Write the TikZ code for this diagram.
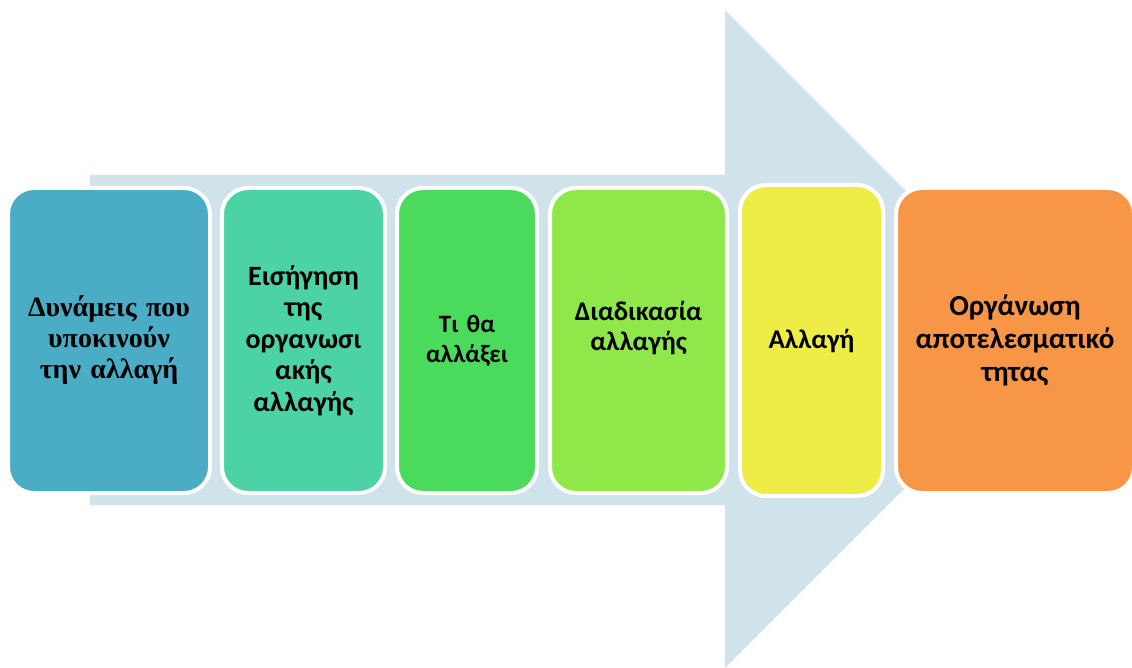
\documentclass[tikz,border=0pt]{standalone}
\usepackage{fontspec}
\setmainfont{Carlito}
\newfontfamily\timesgr{Liberation Serif}
\usepackage{tikz}
\usetikzlibrary{positioning,calc}

\definecolor{arrowbg}{HTML}{D0E2EA}
\definecolor{stepA}{HTML}{4BACC6}
\definecolor{stepB}{HTML}{4BD2A5}
\definecolor{stepC}{HTML}{4ADB5C}
\definecolor{stepD}{HTML}{8FE84A}
\definecolor{stepE}{HTML}{EDED46}
\definecolor{stepF}{HTML}{F79646}

\tikzset{
  stagebox/.style={draw=white, line width=4pt, rounded corners=26pt,
    minimum height=305pt, align=center, inner sep=4pt,
    font=\fontsize{27}{31}\selectfont\bfseries},
}

\begin{document}
\begin{tikzpicture}[x=1pt, y=-1pt]
    \useasboundingbox (0,0) rectangle (1132,668);

    % Big background arrow
    \fill [arrowbg] (90,175) -- (725,175) -- (725,10) -- (1054,339)
        -- (725,668) -- (725,505) -- (90,505) -- cycle;

    % Stages
    \node [stagebox, fill=stepA, minimum width=202pt, text width=194pt,
        font=\timesgr\fontsize{28}{31}\selectfont\bfseries]
        (forces) at (109,340.5) {Δυνάμεις που\\υποκινούν\\την αλλαγή};
    \node [stagebox, fill=stepB, minimum width=163pt, text width=155pt,
        font=\fontsize{28}{31.5}\selectfont\bfseries]
        (proposal) at (303.5,340.5) {Εισήγηση\\της\\οργανωσι\\ακής\\αλλαγής};
    \node [stagebox, fill=stepC, minimum width=140pt, text width=132pt,
        font=\fontsize{25}{30}\selectfont\bfseries]
        (what) at (467,340.5) {Τι θα\\αλλάξει};
    \node [stagebox, fill=stepD, minimum width=177pt, text width=169pt,
        font=\fontsize{27}{30}\selectfont\bfseries]
        (process) at (638.5,340.5) {Διαδικασία\\αλλαγής\\~};
    \node [stagebox, fill=stepE, minimum width=143pt, minimum height=311pt,
        text width=135pt]
        (change) at (811.5,340.5) {Αλλαγή};
    \node [stagebox, fill=stepF, minimum width=238pt, text width=230pt,
        font=\fontsize{29}{33}\selectfont\bfseries]
        (result) at (1015,340.5) {Οργάνωση\\αποτελεσματικό\\τητας};
\end{tikzpicture}
\end{document}
